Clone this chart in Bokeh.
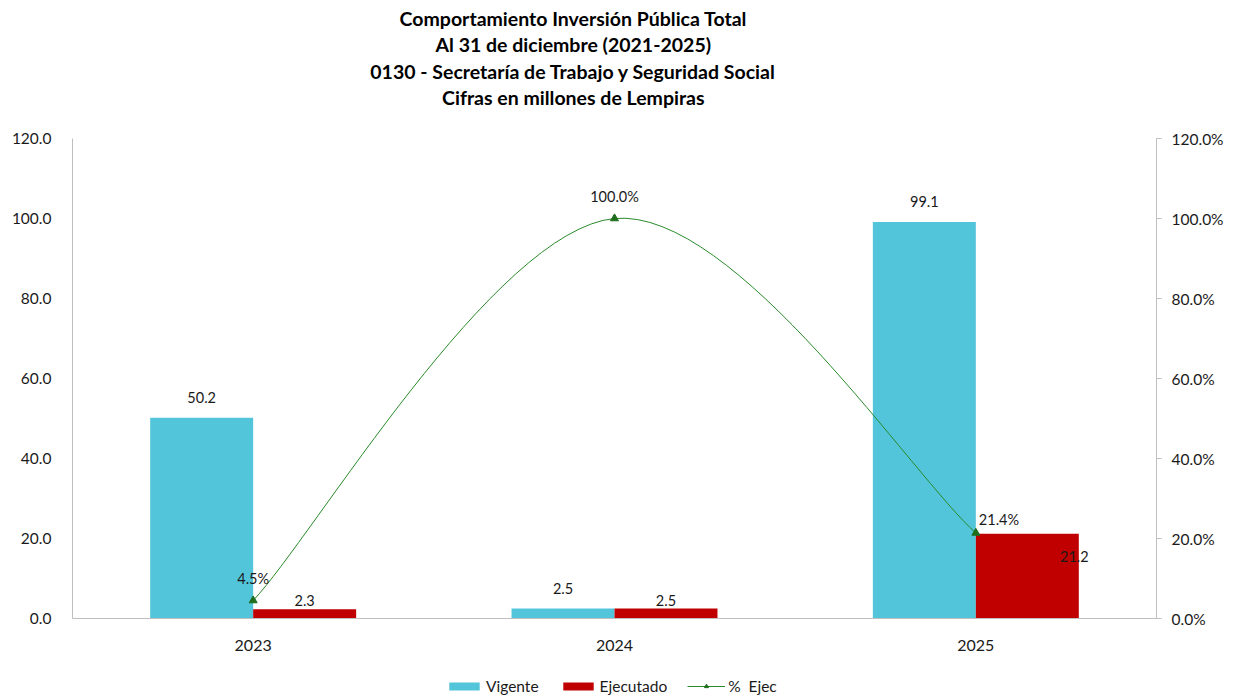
from bokeh.plotting import figure
from bokeh.layouts import column
from bokeh.models import (ColumnDataSource, FactorRange, Range1d, LinearAxis,
                          Legend, LegendItem, FixedTicker, PrintfTickFormatter)
from bokeh.transform import dodge
from bokeh.core.properties import value
from bokeh.embed import file_html
from bokeh.resources import INLINE

years = ["2023", "2024", "2025"]
vigente = [50.2, 2.5, 99.1]
ejecutado = [2.3, 2.5, 21.2]
pct_ejec = [4.5, 100.0, 21.4]
series_names = ["Vigente", "Ejecutado", "%  Ejec"]
title_lines = ["Comportamiento Inversión Pública Total",
               "Al 31 de diciembre (2021-2025)",
               "0130 - Secretaría de Trabajo y Seguridad Social",
               "Cifras en millones de Lempiras"]

FONT = "Lato"
C_VIG = "#53C5DA"
C_EJE = "#C00000"
C_LINE = "#2A8A2A"
C_MARK = "#1E6E1E"
AXIS_C = "#BFBFBF"
TXT_C = "#1A1A1A"
W = 1236
HEAD_H = 128

# header strip with the four title lines (centred a little left of the plot centre)
r = figure(width=W, height=HEAD_H, x_range=Range1d(0, 1), y_range=Range1d(0, HEAD_H),
           x_axis_type=None, y_axis_type=None, output_backend="svg", toolbar_location=None,
           min_border=0)
r.outline_line_color = None
r.xgrid.visible = False
r.ygrid.visible = False
line_centres = [18, 44, 71, 97]
r.text(x=[0.462] * len(title_lines), y=[HEAD_H - c for c in line_centres], text=title_lines,
       text_font=value(FONT), text_font_size="19.5px", text_font_style="bold",
       text_align="center", text_baseline="middle", text_color="#000000")

p = figure(x_range=FactorRange(factors=years, range_padding=0), y_range=Range1d(0, 120),
           width=W, height=544, output_backend="svg", toolbar_location=None,
           min_border_left=72, min_border_right=80, min_border_top=10, min_border_bottom=54)
p.extra_y_ranges = {"pct": Range1d(0, 120)}
p.outline_line_color = None
p.xgrid.visible = False
p.ygrid.visible = False

bw = 0.285
src = ColumnDataSource(dict(x=years, vig=vigente, eje=ejecutado,
                            vig_lbl=[f"{v:.1f}" for v in vigente]))
p.vbar(x=dodge("x", -bw / 2, range=p.x_range), top="vig", width=bw, source=src,
       fill_color=C_VIG, line_color=None)
p.vbar(x=dodge("x", bw / 2, range=p.x_range), top="eje", width=bw, source=src,
       fill_color=C_EJE, line_color=None)

p.text(x=dodge("x", -bw / 2, range=p.x_range), y="vig", text="vig_lbl", source=src,
       text_font=value(FONT), text_font_size="14.5px", text_align="center",
       text_baseline="bottom", y_offset=-15, text_color=TXT_C)

# Ejecutado labels: last one sits inside the bar as in the reference
eje_src = ColumnDataSource(dict(x=years, y=ejecutado, t=[f"{v:.1f}" for v in ejecutado],
                                xo=[0, 0, 47], yo=[-3, -3, 28]))
p.text(x=dodge("x", bw / 2, range=p.x_range), y="y", text="t", source=eje_src,
       text_font=value(FONT), text_font_size="14.5px", text_align="center",
       text_baseline="bottom", x_offset="xo", y_offset="yo", text_color=TXT_C)

# smoothed line (cardinal-like bezier through points)
xs = [i + 0.5 for i in range(len(years))]
ys = pct_ejec
n = len(xs)
x0, y0, x1, y1, cx0, cy0, cx1, cy1 = [], [], [], [], [], [], [], []
for i in range(n - 1):
    xp, yp = (xs[i - 1], ys[i - 1]) if i > 0 else (xs[i], ys[i])
    xn, yn = (xs[i + 2], ys[i + 2]) if i + 2 < n else (xs[i + 1], ys[i + 1])
    x0.append(xs[i]); y0.append(ys[i]); x1.append(xs[i + 1]); y1.append(ys[i + 1])
    cx0.append(xs[i] + (xs[i + 1] - xp) / 6); cy0.append(ys[i] + (ys[i + 1] - yp) / 6)
    cx1.append(xs[i + 1] - (xn - xs[i]) / 6); cy1.append(ys[i + 1] - (yn - ys[i]) / 6)
p.bezier(x0=x0, y0=y0, x1=x1, y1=y1, cx0=cx0, cy0=cy0, cx1=cx1, cy1=cy1,
         line_color=C_LINE, line_width=1, y_range_name="pct")
pct_src = ColumnDataSource(dict(x=years, y=pct_ejec, t=[f"{v:.1f}%" for v in pct_ejec],
                                xo=[0, 0, 3], yo=[-14, -14, -5],
                                al=["center", "center", "left"]))
p.scatter(x="x", y="y", source=pct_src, marker="triangle", size=8,
          fill_color=C_MARK, line_color=C_MARK, y_range_name="pct")
p.text(x="x", y="y", text="t", source=pct_src, y_range_name="pct",
       text_font=value(FONT), text_font_size="14.5px", text_align="al",
       text_baseline="bottom", x_offset="xo", y_offset="yo", text_color=TXT_C)

# axes
ticks = [0, 20, 40, 60, 80, 100, 120]
p.yaxis.ticker = FixedTicker(ticks=ticks)
p.yaxis.formatter = PrintfTickFormatter(format="%.1f")
p.yaxis.axis_line_color = AXIS_C
p.yaxis.major_tick_line_color = None
p.yaxis.minor_tick_line_color = None
p.yaxis.major_label_text_font = FONT
p.yaxis.major_label_text_font_size = "15.5px"
p.yaxis.major_label_text_color = TXT_C
p.yaxis.major_label_standoff = 15

ax2 = LinearAxis(y_range_name="pct", ticker=FixedTicker(ticks=ticks),
                 formatter=PrintfTickFormatter(format="%.1f%%"))
ax2.axis_line_color = AXIS_C
ax2.major_tick_line_color = AXIS_C
ax2.major_tick_out = 5
ax2.major_tick_in = 0
ax2.minor_tick_line_color = None
ax2.major_label_text_font = FONT
ax2.major_label_text_font_size = "15.5px"
ax2.major_label_text_color = TXT_C
ax2.major_label_standoff = 10
p.add_layout(ax2, "right")

p.xaxis.axis_line_color = AXIS_C
p.xaxis.major_tick_line_color = None
p.xaxis.minor_tick_line_color = None
p.xaxis.major_label_text_font = FONT
p.xaxis.major_label_text_font_size = "16px"
p.xaxis.major_label_text_color = TXT_C
p.xaxis.major_label_standoff = 15

# legend strip below the chart: key placeholders sit outside the strip's visible range
q = figure(width=W, height=24, x_range=Range1d(0, 1), y_range=Range1d(0, 1),
           x_axis_type=None, y_axis_type=None, output_backend="svg", toolbar_location=None,
           min_border=0)
q.outline_line_color = None
q.xgrid.visible = False
q.ygrid.visible = False
off = dict(x=[-5], y=[-5])
k_vig = q.vbar(x=off["x"], top=off["y"], width=0.1, fill_color=C_VIG, line_color=None)
k_eje = q.vbar(x=off["x"], top=off["y"], width=0.1, fill_color=C_EJE, line_color=None)
k_line = q.line(x=off["x"] * 2, y=off["y"] * 2, line_color=C_LINE, line_width=1)
k_mark = q.scatter(x=off["x"], y=off["y"], marker="triangle", size=8,
                   fill_color=C_MARK, line_color=C_MARK)
legend = Legend(items=[LegendItem(label=series_names[0], renderers=[k_vig]),
                       LegendItem(label=series_names[1], renderers=[k_eje]),
                       LegendItem(label=series_names[2], renderers=[k_line, k_mark])],
                orientation="horizontal", location=(373, 1),
                label_text_font=FONT, label_text_font_size="15.5px",
                label_text_color=TXT_C,
                glyph_width=38, glyph_height=10, spacing=20, border_line_color=None,
                background_fill_alpha=0, padding=0, margin=0, label_standoff=3)
q.add_layout(legend, "center")

open("out.html", "w").write(file_html(column(r, p, q, spacing=0), INLINE))
